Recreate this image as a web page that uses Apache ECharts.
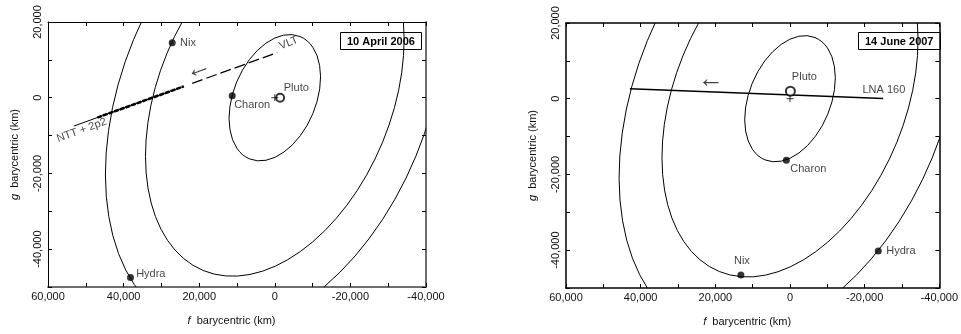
<!DOCTYPE html>
<html><head><meta charset="utf-8">
<script src="https://cdn.jsdelivr.net/npm/echarts@6/dist/echarts.min.js"></script>
<style>html,body{margin:0;padding:0;background:#fff}#c{width:961px;height:334px}</style>
</head><body><div id="c"></div>
<script>
// ---------- data (km, barycentric f/g plane) ----------
const panelTitles = ['10 April 2006', '14 June 2007'];
const xRange = [-40000, 60000];
const yRange = [-50000, 20000];
const xTickLabels = [60000, 40000, 20000, 0, -20000, -40000];
const yTickLabels = [20000, 0, -20000, -40000];

// orbit ellipses: [centre f, centre g, semi-major, semi-minor, major-axis direction (deg, f/g plane)]
const orbitsApril = [[0, 0, 17490, 10910, 112.5], [0, 0, 49420, 30840, 112.5], [0, 0, 64740, 40400, 112.5]];
const orbitsJune  = [[0, 0, 17490, 10910, 112.5], [0, 0, 49420, 30840, 112.5], [0, 0, 65970, 41170, 112.5]];

const moonNames  = ['Charon', 'Nix', 'Hydra'];
const moonsApril = [[11270, 530], [27140, 14550], [38170, -47510]];
const moonsJune  = [[980, -16230], [13160, -46590], [-23640, -40230]];
const plutoApril = [-1400, 0];
const plutoJune  = [-100, 2000];
const barycentre = [0, 0];

// occultation chords
const vltSolid  = [[53170, -7490], [24070, 3000]];
const vltDashed = [[21850, 3800], [-630, 11900]];
const ntt2p2    = [[46980, -5260], [24070, 3000]];
const lna160    = [[42880, 2650], [-24960, 80]];
const arrowApril = [20320, 7720];
const arrowJune  = [21180, 5030];

// ---------- chart ----------
const FONT = 'Liberation Sans, Arial, sans-serif';
const TXT = '#111';
const fmt = v => v.toLocaleString('en-US');

function xAx(gi, pos, line, labels) {
  return {
    type: 'value', gridIndex: gi, position: pos, inverse: true,
    min: xRange[0], max: xRange[1], interval: 10000,
    axisLine: { show: true, onZero: false, lineStyle: line },
    axisTick: { show: true, inside: true, length: 4, lineStyle: { color: '#000', width: 1 } },
    axisLabel: { show: labels, margin: 4, fontSize: 11, color: TXT, fontFamily: FONT,
      showMinLabel: true, showMaxLabel: true,
      formatter: v => xTickLabels.includes(v) ? fmt(v) : '' },
    splitLine: { show: false },
    name: labels ? '{i|f}  barycentric (km)' : '',
    nameLocation: 'middle', nameGap: 28,
    nameTextStyle: { fontSize: 11, color: TXT, fontFamily: FONT, padding: [0, 11, 0, 0],
      rich: { i: { fontStyle: 'italic', fontSize: 11, color: TXT, fontFamily: FONT } } }
  };
}
function yAx(gi, pos, line, labels) {
  return {
    type: 'value', gridIndex: gi, position: pos,
    min: yRange[0], max: yRange[1], interval: 10000,
    axisLine: { show: true, onZero: false, lineStyle: line },
    axisTick: { show: true, inside: true, length: 4, lineStyle: { color: '#000', width: 1 } },
    axisLabel: { show: labels, margin: 5, rotate: 90, fontSize: 11, color: TXT, fontFamily: FONT,
      showMinLabel: true, showMaxLabel: true,
      formatter: v => yTickLabels.includes(v) ? fmt(v) : '' },
    splitLine: { show: false },
    name: labels ? '{i|g}  barycentric (km)' : '',
    nameLocation: 'middle', nameGap: 28,
    nameTextStyle: { fontSize: 11, color: TXT, fontFamily: FONT,
      rich: { i: { fontStyle: 'italic', fontSize: 11, color: TXT, fontFamily: FONT } } }
  };
}

function renderEllipse(params, api) {
  const cf = api.value(0), cg = api.value(1), a = api.value(2), b = api.value(3);
  const t = api.value(4) * Math.PI / 180;
  const c = api.coord([cf, cg]);
  const pa = api.coord([cf + a * Math.cos(t), cg + a * Math.sin(t)]);
  const pb = api.coord([cf + b * Math.cos(t + Math.PI / 2), cg + b * Math.sin(t + Math.PI / 2)]);
  const dx = pa[0] - c[0], dy = pa[1] - c[1];
  const rx = Math.hypot(dx, dy);
  const ry = Math.hypot(pb[0] - c[0], pb[1] - c[1]);
  const rot = Math.atan2(dy, dx) * 180 / Math.PI;
  const x1 = c[0] + dx, y1 = c[1] + dy, x2 = c[0] - dx, y2 = c[1] - dy;
  const d = `M ${x1} ${y1} A ${rx} ${ry} ${rot} 0 1 ${x2} ${y2} A ${rx} ${ry} ${rot} 0 1 ${x1} ${y1} Z`;
  return { type: 'path', shape: { pathData: d }, style: { fill: 'none', stroke: '#000', lineWidth: 1 } };
}

function orbitSeries(data, ai) {
  return { type: 'custom', coordinateSystem: 'cartesian2d', xAxisIndex: ai, yAxisIndex: ai,
    clip: true, silent: true, renderItem: renderEllipse, data: data, encode: { x: 0, y: 1 }, z: 2 };
}
function chordSeries(data, ai, style) {
  return { type: 'line', xAxisIndex: ai, yAxisIndex: ai, data: data, symbol: 'none',
    silent: true, lineStyle: style, z: 3 };
}
function moonSeries(points, offsets, ai) {
  return { type: 'scatter', xAxisIndex: ai, yAxisIndex: ai, symbol: 'circle', symbolSize: 7,
    silent: true, itemStyle: { color: '#000' }, z: 5,
    data: points.map((p, i) => ({ value: p, name: moonNames[i],
      label: { show: true, position: 'inside', formatter: moonNames[i], offset: offsets[i],
        fontSize: 11, color: TXT, fontFamily: FONT } })) };
}
function plutoSeries(p, off, size, ai) {
  return { type: 'scatter', xAxisIndex: ai, yAxisIndex: ai, symbol: 'emptyCircle', symbolSize: size,
    silent: true, itemStyle: { color: '#000', borderWidth: 1 }, z: 6,
    data: [{ value: p, label: { show: true, position: 'inside', formatter: 'Pluto', offset: off,
      fontSize: 11, color: TXT, fontFamily: FONT } }] };
}
function baryS(ai) {
  return { type: 'scatter', xAxisIndex: ai, yAxisIndex: ai, symbol: 'path://M0,5L10,5M5,0L5,10',
    symbolSize: 7, silent: true, itemStyle: { color: 'none', borderColor: '#000', borderWidth: 1 }, z: 6,
    data: [barycentre] };
}
function textSeries(items, ai) {
  return { type: 'scatter', xAxisIndex: ai, yAxisIndex: ai, symbolSize: 1, silent: true,
    itemStyle: { color: 'rgba(0,0,0,0)' }, z: 7,
    data: items.map(it => ({ value: it.at, label: { show: true, position: 'inside', formatter: it.text,
      offset: it.off, rotate: it.rot || 0, fontSize: it.size || 11, color: TXT,
      fontFamily: it.font || FONT } })) };
}

const chart = echarts.init(document.getElementById('c'), null, { renderer: 'canvas' });
chart.setOption({
  animation: false,
  backgroundColor: '#fff',
  textStyle: { fontFamily: FONT },
  title: [
    { text: panelTitles[0], left: 340, top: 32, padding: [4, 7, 3, 7], borderColor: '#000', borderWidth: 1,
      textStyle: { fontSize: 11, fontWeight: 'bold', color: '#000', fontFamily: FONT } },
    { text: panelTitles[1], left: 858, top: 32, padding: [4, 7, 3, 7], borderColor: '#000', borderWidth: 1,
      textStyle: { fontSize: 11, fontWeight: 'bold', color: '#000', fontFamily: FONT } }
  ],
  grid: [
    { left: 48, top: 22, width: 378, height: 265 },
    { left: 566, top: 23, width: 378, height: 265 }
  ],
  xAxis: [
    xAx(0, 'bottom', { color: '#6e6e6e', width: 2 }, true),
    xAx(0, 'top', { color: '#000', width: 1 }, false),
    xAx(1, 'bottom', { color: '#000', width: 1.5 }, true),
    xAx(1, 'top', { color: '#000', width: 1.5 }, false)
  ],
  yAxis: [
    yAx(0, 'left', { color: '#000', width: 1 }, true),
    yAx(0, 'right', { color: '#6e6e6e', width: 2 }, false),
    yAx(1, 'left', { color: '#000', width: 1.5 }, true),
    yAx(1, 'right', { color: '#000', width: 1.5 }, false)
  ],
  series: [
    // April 2006
    orbitSeries(orbitsApril, 0),
    chordSeries(vltSolid, 0, { color: '#000', width: 1 }),
    chordSeries(ntt2p2, 0, { color: '#000', width: 2.6, type: [5, 1] }),
    chordSeries(vltDashed, 0, { color: '#000', width: 1.3, type: [11, 4] }),
    moonSeries(moonsApril, [[20, 9.3], [15.8, 0], [20.3, -4]], 0),
    plutoSeries(plutoApril, [16.2, -9.4], 8, 0),
    baryS(0),
    textSeries([
      { at: vltDashed[1], text: 'VLT', off: [14.3, -4.7], rot: 22 },
      { at: vltSolid[0], text: 'NTT + 2p2', off: [6, 6.6], rot: 20 },
      { at: arrowApril, text: '←', off: [0, 0], rot: 20, size: 26 }
    ], 0),
    // June 2007
    orbitSeries(orbitsJune, 2),
    chordSeries(lna160, 2, { color: '#000', width: 1.5 }),
    moonSeries(moonsJune, [[22, 9], [1, -14.3], [22.7, 0]], 2),
    plutoSeries(plutoJune, [14, -14], 9, 2),
    baryS(2),
    textSeries([
      { at: lna160[1], text: 'LNA 160', off: [0.7, -8] },
      { at: arrowJune, text: '←', off: [0, 0], size: 26 }
    ], 2)
  ]
});
</script></body></html>
